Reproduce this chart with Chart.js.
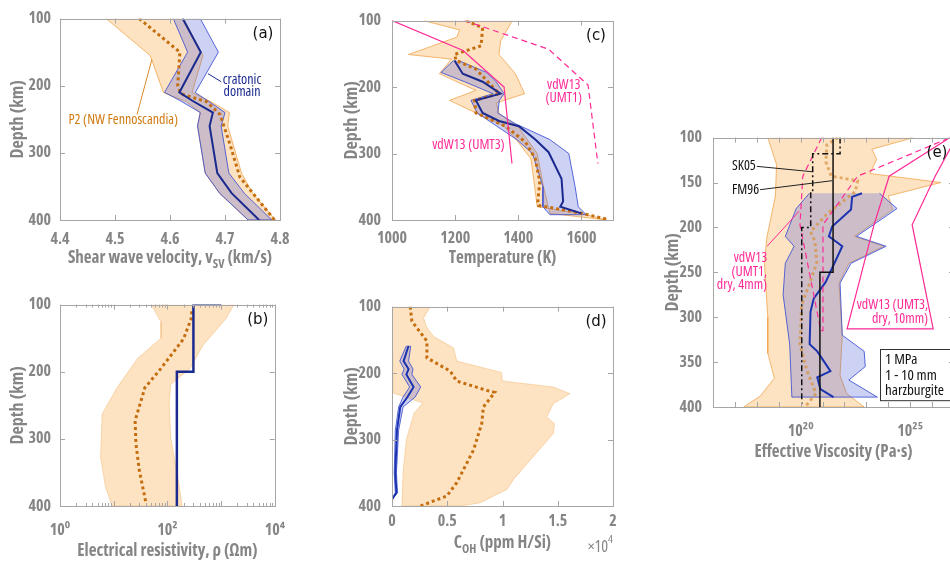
<!DOCTYPE html>
<html>
<head>
<meta charset="utf-8">
<script src="https://cdn.jsdelivr.net/npm/chart.js@4.4.1/dist/chart.umd.min.js"></script>
<style>
html, body { margin: 0; padding: 0; width: 950px; height: 566px; overflow: hidden; background: #fff; }
canvas { position: absolute; }
</style>
</head>
<body>
<canvas id="pa"></canvas>
<canvas id="pb"></canvas>
<canvas id="pc"></canvas>
<canvas id="pd"></canvas>
<canvas id="pe"></canvas>
<script>
// ---- (a) shear wave velocity (km/s) vs depth (km)
const aBlueDepth = [100, 150, 210, 222, 240, 260, 330, 360, 400];
const aBlueVs    = [4.623, 4.656, 4.617, 4.640, 4.678, 4.672, 4.686, 4.712, 4.762];
const aBlueLo    = [4.606, 4.632, 4.590, 4.618, 4.655, 4.650, 4.664, 4.690, 4.742];
const aBlueHi    = [4.655, 4.688, 4.646, 4.668, 4.700, 4.693, 4.707, 4.735, 4.785];
const aP2Depth   = [100, 150, 200, 212, 224, 243, 287, 336, 400];
const aP2Vs      = [4.544, 4.618, 4.614, 4.620, 4.667, 4.691, 4.709, 4.727, 4.790];
const aP2BandDepth = [100, 155, 210, 224, 240, 260, 330, 360, 400];
const aP2Lo      = [4.484, 4.564, 4.588, 4.630, 4.655, 4.650, 4.664, 4.690, 4.742];
const aP2Hi      = [4.625, 4.660, 4.640, 4.675, 4.708, 4.705, 4.730, 4.750, 4.792];

// ---- (b) electrical resistivity (ohm m)
const bBlueRho   = [1000, 305, 305, 150, 150];
const bBlueDepth = [100, 100, 200, 200, 400];
const bP2Depth   = [110, 121, 151, 195, 224, 273, 308, 347, 396];
const bP2Rho     = [285, 277, 200, 76, 38, 25, 26, 30, 40];
const bLoDepth   = [100, 126, 150, 180, 224, 263, 327, 371, 400];
const bLoRho     = [50, 76, 76, 28, 11.5, 6.1, 5.7, 7, 9.3];
const bHiDepth   = [100, 121, 160, 195, 219, 249, 298, 366, 400];
const bHiRho     = [1740, 1230, 464, 265, 115, 108, 115, 163, 187];

// ---- (c) temperature (K)
const cUmt3T     = [1000, 1225, 1355, 1380];
const cUmt3Depth = [100, 145, 200, 315];
const cUmt1T     = [1230, 1496, 1621, 1652];
const cUmt1Depth = [100, 143, 197, 315];
const cP2Depth   = [100, 111, 138, 151, 160, 173, 210, 220, 239, 259, 283, 308, 342, 372, 378, 390, 398, 400];
const cP2T       = [1235, 1287, 1282, 1198, 1203, 1266, 1339, 1261, 1266, 1360, 1423, 1454, 1468, 1462, 1464, 1601, 1674, 1680];
const cBlueDepth = [160, 180, 192, 210, 220, 239, 251, 259, 279, 298, 338, 372, 380, 390];
const cBlueT     = [1198, 1224, 1287, 1344, 1266, 1287, 1339, 1402, 1454, 1496, 1537, 1542, 1533, 1600];
const cBlueBandDepth = [160, 178, 192, 210, 220, 239, 255, 279, 300, 350, 380, 392];
const cBlueLo    = [1195, 1155, 1230, 1320, 1250, 1270, 1320, 1395, 1445, 1478, 1478, 1500];
const cBlueHi    = [1210, 1300, 1330, 1355, 1340, 1335, 1390, 1500, 1560, 1580, 1590, 1615];
const cLoDepth   = [100, 114, 125, 151, 158, 180, 205, 220, 239, 259, 283, 308, 372, 380, 390, 400];
const cLoT       = [1100, 1214, 1205, 1052, 1188, 1150, 1266, 1182, 1266, 1355, 1400, 1440, 1458, 1460, 1600, 1680];
const cHiDepth   = [100, 131, 151, 180, 210, 224, 240, 260, 300, 350, 390, 400];
const cHiT       = [1381, 1344, 1339, 1391, 1420, 1330, 1340, 1400, 1460, 1480, 1500, 1680];

// ---- (d) water content (x 10^4 ppm H/Si)
const dP2Depth   = [100, 122, 152, 177, 197, 212, 226, 229, 251, 276, 316, 365, 385, 400];
const dP2Coh     = [0.165, 0.18, 0.316, 0.316, 0.526, 0.586, 0.857, 0.93, 0.827, 0.812, 0.737, 0.586, 0.496, 0.256];
const dLoDepth   = [100, 230, 245, 260, 300, 350, 400];
const dLoCoh     = [0, 0.01, 0.28, 0.2, 0.13, 0.1, 0.09];
const dHiDepth   = [100, 117, 132, 145, 162, 182, 199, 212, 221, 231, 246, 266, 276, 291, 331, 360, 375, 395, 400];
const dHiCoh     = [0.346, 0.286, 0.316, 0.376, 0.556, 0.586, 0.99, 1.0, 1.46, 1.61, 1.46, 1.4, 1.47, 1.46, 1.25, 1.1, 1.04, 0.8, 0.62];
const dBlueDepth = [159, 182, 194, 202, 221, 236, 251, 286, 350, 380, 390];
const dBlueCoh   = [0.15, 0.105, 0.15, 0.13, 0.195, 0.14, 0.075, 0.045, 0.03, 0.04, 0];
const dBlueLo    = [0.13, 0.07, 0.11, 0.09, 0.16, 0.10, 0.06, 0.03, 0.02, 0.03, 0];
const dBlueHi    = [0.17, 0.15, 0.19, 0.18, 0.26, 0.21, 0.10, 0.06, 0.04, 0.05, 0];

// ---- (e) effective viscosity, log10(Pa s)
const eFm96Log   = [21.48, 21.48, 20.88, 20.88];
const eFm96Depth = [100, 250, 250, 400];
const eSk05Log   = [21.8, 21.8, 20.55, 20.55, 20.46, 20.46, 20.05, 20.05];
const eSk05Depth = [100, 118, 118, 160, 160, 200, 200, 400];
const eUmt1Log   = [20.96, 20.1, 19.97, 20.92, 21.02, 21.02, 22.6, 26.82];
const eUmt1Depth = [100, 143, 197, 315, 315, 197, 143, 100];
const eUmt3Log   = [26.82, 24.04, 23.35, 22.12, 26.05, 25.09, 26.14, 27.1];
const eUmt3Depth = [100, 143, 197, 313, 313, 197, 143, 100];
const eP2Depth   = [100, 108, 127, 143, 148, 160, 185, 205, 215, 239, 261, 286, 330, 359, 385, 400];
const eP2Log     = [21.7, 21.2, 21.15, 21.4, 22.6, 22.5, 21.2, 20.45, 20.65, 20.74, 20.43, 20.05, 19.97, 20.28, 20.7, 20.2];
const eBlueDepth = [162, 166, 180, 199, 210, 221, 261, 279, 294, 330, 338, 352, 360, 367, 380, 389];
const eBlueLog   = [22.8, 22.35, 22.3, 21.44, 21.29, 21.9, 21.14, 20.6, 20.45, 20.41, 20.76, 21.14, 21.36, 20.76, 20.9, 21.5];
const eBlueLoDepth = [162, 179, 210, 221, 240, 275, 330, 389];
const eBlueLoLog   = [20.4, 19.8, 19.3, 19.7, 19.3, 19.2, 19.5, 19.6];
const eBlueHiDepth = [162, 179, 210, 221, 240, 262, 320, 338, 355, 370, 389];
const eBlueHiLog   = [23.6, 24.4, 22.55, 23.9, 22.3, 21.8, 21.9, 22.9, 22.95, 22.2, 23.5];
const eLoDepth   = [100, 130, 165, 212, 240, 262, 300, 340, 368, 388, 400];
const eLoLog     = [18.5, 18.9, 18.85, 18.45, 18.35, 18.4, 18.5, 18.5, 18.8, 18.15, 17.4];
const eHiDepth   = [100, 113, 124, 140, 150, 165, 180, 210, 221, 240, 262, 320, 365, 385, 400];
const eHiLog     = [25.15, 23.25, 23.47, 23.17, 26.4, 24.0, 24.2, 22.45, 23.8, 22.2, 21.75, 21.9, 21.8, 22.1, 22.9];

// ---- ticks
const depthTicks  = [100, 200, 300, 400];
const eDepthTicks = [100, 150, 200, 250, 300, 350, 400];
const aXTicks = [4.4, 4.5, 4.6, 4.7, 4.8];
const bXLabelVals = [1, 100, 10000];
const bXLabels = ['10⁰', '10²', '10⁴'];
const cXTicks = [1000, 1200, 1400, 1600];
const dXTicks = [0, 0.5, 1, 1.5, 2];
const dXLabels = ['0', '0.5', '1', '1.5', '2'];
const eXLabelVals = [1e20, 1e25];
const eXLabels = ['10²⁰', '10²⁵'];

const FONT = "'Open Sans', 'Liberation Sans Narrow', 'DejaVu Sans Condensed', sans-serif";
const STRETCH = 'condensed';
const LETTER_FONT = "'DejaVu Sans', sans-serif";
const GRAY = '#858585';
const AXIS = '#a6a6a6';
const ORANGE_FILL = 'rgba(250,175,80,0.35)';
const ORANGE_EDGE = 'rgba(240,160,70,0.75)';
const BLUE_FILL = 'rgba(55,75,215,0.25)';
const BLUE_EDGE = 'rgba(60,80,210,0.85)';
const NAVY = '#1b2a8f';
const DOT = '#c46e10';
const PINK = '#ff2a96';

const fontStr = (weight, size) => (weight || '') + ' ' + STRETCH + ' ' + size + 'px ' + FONT;
const pts = (xs, ys) => xs.map((x, i) => ({x: x, y: ys[i]}));
const pow10 = arr => arr.map(v => Math.pow(10, v));
const band = (lx, ly, hx, hy) => pts(lx, ly).concat(pts(hx, hy).reverse());

function lineDs(data, color, width, dash, order) {
  return {data, borderColor: color, borderWidth: width, borderDash: dash || [], fill: false, order, pointRadius: 0};
}
function bandDs(data, fill, edge, order) {
  return {data, backgroundColor: fill, borderColor: edge, borderWidth: 1, fill: 'shape', order, pointRadius: 0};
}

function rich(ctx, parts, x, y, align, size, color, weight) {
  const ws = parts.map(p => { ctx.font = fontStr(weight, p[1] ? size * 0.72 : size); return ctx.measureText(p[0]).width; });
  const total = ws.reduce((s, w) => s + w, 0);
  let cx = align === 'center' ? x - total / 2 : align === 'right' ? x - total : x;
  ctx.fillStyle = color;
  ctx.textAlign = 'left';
  ctx.textBaseline = 'middle';
  parts.forEach((p, i) => {
    ctx.font = fontStr(weight, p[1] ? size * 0.72 : size);
    const dy = p[1] === 'sub' ? size * 0.4 : p[1] === 'sup' ? -size * 0.45 : 0;
    ctx.fillText(p[0], cx, y + dy);
    cx += ws[i];
  });
}

function text(ctx, s, x, y, color, align, size) {
  ctx.font = fontStr('', size || 14);
  ctx.fillStyle = color;
  ctx.textAlign = align || 'center';
  ctx.textBaseline = 'middle';
  ctx.fillText(s, x, y);
}
function seg(ctx, p, q, color) {
  ctx.strokeStyle = color; ctx.lineWidth = 1; ctx.setLineDash([]);
  ctx.beginPath(); ctx.moveTo(p[0], p[1]); ctx.lineTo(q[0], q[1]); ctx.stroke();
}

function framePlugin(cfg) {
  return {
    id: 'frame',
    afterDraw(chart) {
      const ctx = chart.ctx, a = chart.chartArea;
      const sx = chart.scales.x, sy = chart.scales.y;
      const P = (x, y) => [sx.getPixelForValue(x), sy.getPixelForValue(y)];
      ctx.save();
      if (cfg.notes) cfg.notes(ctx, P, a);
      ctx.strokeStyle = AXIS; ctx.lineWidth = 1; ctx.setLineDash([]);
      ctx.beginPath();
      sx.ticks.forEach(t => {
        const p = Math.round(sx.getPixelForValue(t.value)) + 0.5;
        const L = cfg.minorX && cfg.minorX(t.value) ? 3 : 5;
        ctx.moveTo(p, a.bottom); ctx.lineTo(p, a.bottom - L);
        ctx.moveTo(p, a.top); ctx.lineTo(p, a.top + L);
      });
      sy.ticks.forEach(t => {
        const p = Math.round(sy.getPixelForValue(t.value)) + 0.5;
        ctx.moveTo(a.left, p); ctx.lineTo(a.left + 5, p);
        ctx.moveTo(a.right, p); ctx.lineTo(a.right - 5, p);
      });
      ctx.stroke();
      ctx.strokeRect(Math.round(a.left) + 0.5, Math.round(a.top) + 0.5,
        Math.round(a.right - a.left), Math.round(a.bottom - a.top));
      ctx.font = '15px ' + LETTER_FONT;
      ctx.fillStyle = '#111'; ctx.textAlign = 'center'; ctx.textBaseline = 'middle';
      ctx.fillText(cfg.letter, a.right - 17, a.top + 16);
      rich(ctx, cfg.title, (a.left + a.right) / 2, a.bottom + cfg.titleDy, 'center', 17, GRAY, 'bold');
      if (cfg.extra) cfg.extra(ctx, a);
      ctx.restore();
    }
  };
}

function makePanel(id, g, cfg) {
  const el = document.getElementById(id);
  el.width = g.w; el.height = g.h;
  el.style.left = g.left + 'px'; el.style.top = g.top + 'px';
  const tickFont = {family: FONT, size: 16, weight: 'bold ' + STRETCH};
  return new Chart(el, {
    type: 'line',
    data: {datasets: cfg.datasets},
    options: {
      responsive: false,
      animation: false,
      events: [],
      layout: {padding: {left: 0, top: 16, right: g.w - 60 - g.pw, bottom: 0}},
      plugins: {legend: {display: false}, tooltip: {enabled: false}},
      elements: {point: {radius: 0}, line: {tension: 0}},
      scales: {
        x: {
          type: cfg.xType, min: cfg.xMin, max: cfg.xMax, position: 'bottom',
          grid: {display: false, drawTicks: false}, border: {display: false},
          afterFit: s => { s.height = g.h - 16 - g.ph; },
          afterBuildTicks: s => { s.ticks = cfg.xTicks.map(v => ({value: v})); },
          ticks: {autoSkip: false, maxRotation: 0, padding: cfg.xPad, color: GRAY, font: tickFont, callback: cfg.xLabel}
        },
        y: {
          type: 'linear', min: 100, max: 400, reverse: true, position: 'left',
          grid: {display: false, drawTicks: false}, border: {display: false},
          afterFit: s => { s.width = 60; },
          afterBuildTicks: s => { s.ticks = cfg.yTicks.map(v => ({value: v})); },
          ticks: {autoSkip: false, padding: cfg.yPad, color: GRAY, font: tickFont, callback: v => String(v)},
          title: {display: true, text: 'Depth (km)', color: GRAY, font: {family: FONT, size: 18, weight: 'bold ' + STRETCH}, padding: {top: cfg.yTitlePad, bottom: 0}}
        }
      }
    },
    plugins: [framePlugin(cfg)]
  });
}

// ---- panel (a)
makePanel('pa', {left: 0, top: 0, w: 300, h: 276, pw: 220, ph: 204}, {
  xType: 'linear', xMin: 4.4, xMax: 4.8, xTicks: aXTicks, xPad: 10, xLabel: v => v.toFixed(1),
  yTicks: depthTicks, yPad: 9, yTitlePad: 7,
  letter: '(a)', titleDy: 38,
  title: [['Shear wave velocity, v', 0], ['SV', 'sub'], [' (km/s)', 0]],
  datasets: [
    lineDs(pts(aBlueVs, aBlueDepth), NAVY, 2, null, 1),
    lineDs(pts(aP2Vs, aP2Depth), DOT, 3, [3, 3], 2),
    bandDs(band(aBlueLo, aBlueDepth, aBlueHi, aBlueDepth), BLUE_FILL, BLUE_EDGE, 3),
    bandDs(band(aP2Lo, aP2BandDepth, aP2Hi, aP2BandDepth), ORANGE_FILL, ORANGE_EDGE, 4)
  ],
  notes: (ctx, P) => {
    seg(ctx, P(4.669, 182), P(4.693, 194), NAVY);
    let p = P(4.731, 191); text(ctx, 'cratonic', p[0], p[1], NAVY);
    p = P(4.731, 209); text(ctx, 'domain', p[0], p[1], NAVY);
    seg(ctx, P(4.567, 161), P(4.540, 243), '#d98a2b');
    p = P(4.515, 251); text(ctx, 'P2 (NW Fennoscandia)', p[0], p[1], '#d07a10');
  }
});

// ---- panel (b)
const bTicks = [];
[1, 10, 100, 1000].forEach(d => { for (let k = 1; k < 10; k++) bTicks.push(d * k); });
bTicks.push(10000);
makePanel('pb', {left: 0, top: 286, w: 300, h: 280, pw: 220, ph: 204}, {
  xType: 'logarithmic', xMin: 1, xMax: 10000, xTicks: bTicks, xPad: 15,
  xLabel: v => { const i = bXLabelVals.indexOf(v); return i >= 0 ? bXLabels[i] : ''; },
  minorX: v => bXLabelVals.indexOf(v) < 0 && [10, 1000].indexOf(v) < 0,
  yTicks: depthTicks, yPad: 9, yTitlePad: 7,
  letter: '(b)', titleDy: 45,
  title: [['Electrical resistivity, ρ (Ωm)', 0]],
  datasets: [
    lineDs(pts(bBlueRho, bBlueDepth), NAVY, 2.5, null, 1),
    lineDs(pts(bP2Rho, bP2Depth), DOT, 3, [3, 3], 2),
    bandDs(band(bLoRho, bLoDepth, bHiRho, bHiDepth), ORANGE_FILL, 'rgba(240,170,90,0.4)', 4)
  ]
});

// ---- panel (c)
makePanel('pc', {left: 332, top: 0, w: 300, h: 276, pw: 221, ph: 204}, {
  xType: 'linear', xMin: 1000, xMax: 1700, xTicks: cXTicks, xPad: 9, xLabel: v => String(v),
  yTicks: depthTicks, yPad: 11, yTitlePad: 9,
  letter: '(c)', titleDy: 38,
  title: [['Temperature (K)', 0]],
  datasets: [
    lineDs(pts(cUmt3T, cUmt3Depth), PINK, 1.2, null, 0),
    lineDs(pts(cUmt1T, cUmt1Depth), PINK, 1.2, [6, 4], 0),
    lineDs(pts(cBlueT, cBlueDepth), NAVY, 2, null, 1),
    lineDs(pts(cP2T, cP2Depth), DOT, 3, [3, 3], 2),
    bandDs(band(cBlueLo, cBlueBandDepth, cBlueHi, cBlueBandDepth), BLUE_FILL, BLUE_EDGE, 3),
    bandDs(band(cLoT, cLoDepth, cHiT, cHiDepth), ORANGE_FILL, ORANGE_EDGE, 4)
  ],
  notes: (ctx, P) => {
    let p = P(1544, 197); text(ctx, 'vdW13', p[0], p[1], PINK);
    p = P(1544, 216); text(ctx, '(UMT1)', p[0], p[1], PINK);
    p = P(1242, 287); text(ctx, 'vdW13 (UMT3)', p[0], p[1], PINK);
  }
});

// ---- panel (d)
makePanel('pd', {left: 332, top: 286, w: 300, h: 280, pw: 221, ph: 204}, {
  xType: 'linear', xMin: 0, xMax: 2, xTicks: dXTicks, xPad: 6,
  xLabel: v => { const i = dXTicks.indexOf(v); return i >= 0 ? dXLabels[i] : ''; },
  yTicks: depthTicks, yPad: 11, yTitlePad: 9,
  letter: '(d)', titleDy: 37,
  title: [['C', 0], ['OH', 'sub'], [' (ppm H/Si)', 0]],
  datasets: [
    lineDs(pts(dBlueCoh, dBlueDepth), '#1c33b0', 2, null, 1),
    lineDs(pts(dP2Coh, dP2Depth), DOT, 3, [3, 3], 2),
    bandDs(band(dBlueLo, dBlueDepth, dBlueHi, dBlueDepth), BLUE_FILL, BLUE_EDGE, 3),
    bandDs(band(dLoCoh, dLoDepth, dHiCoh, dHiDepth), ORANGE_FILL, 'rgba(240,170,90,0.4)', 4)
  ],
  extra: (ctx, a) => {
    rich(ctx, [['×10', 0], ['4', 'sup']], a.right, a.bottom + 41, 'right', 16, GRAY, '');
  }
});

// ---- panel (e)
const eTicks = [];
for (let k = 16; k <= 27; k++) eTicks.push(Math.pow(10, k));
makePanel('pe', {left: 653, top: 117, w: 320, h: 360, pw: 241, ph: 274}, {
  xType: 'logarithmic', xMin: 1e16, xMax: 1e27, xTicks: eTicks, xPad: 15,
  xLabel: v => { const i = eXLabelVals.indexOf(v); return i >= 0 ? eXLabels[i] : ''; },
  yTicks: eDepthTicks, yPad: 11, yTitlePad: 9,
  letter: '(e)', titleDy: 45,
  title: [['Effective Viscosity (Pa·s)', 0]],
  datasets: [
    lineDs(pts(pow10(eFm96Log), eFm96Depth), '#111', 1.5, null, 0),
    lineDs(pts(pow10(eSk05Log), eSk05Depth), '#111', 1.5, [6, 3, 2, 3], 0),
    lineDs(pts(pow10(eUmt1Log), eUmt1Depth), PINK, 1.2, [6, 4], 0),
    lineDs(pts(pow10(eUmt3Log), eUmt3Depth), PINK, 1.2, null, 0),
    lineDs(pts(pow10(eBlueLog), eBlueDepth), '#1c33b0', 2, null, 1),
    lineDs(pts(pow10(eP2Log), eP2Depth), 'rgba(215,150,70,0.75)', 3, [3, 3], 2),
    bandDs(band(pow10(eBlueLoLog), eBlueLoDepth, pow10(eBlueHiLog), eBlueHiDepth), BLUE_FILL, BLUE_EDGE, 3),
    bandDs(band(pow10(eLoLog), eLoDepth, pow10(eHiLog), eHiDepth), ORANGE_FILL, ORANGE_EDGE, 4)
  ],
  notes: (ctx, P0) => {
    const P = (lx, d) => P0(Math.pow(10, lx), d);
    seg(ctx, P(18.0, 132), P(20.52, 138), '#222');
    seg(ctx, P(18.15, 158), P(21.43, 148), '#222');
    let p = P(18.0, 132); text(ctx, 'SK05', p[0] - 1, p[1], '#111', 'right');
    p = P(18.15, 158); text(ctx, 'FM96', p[0] - 1, p[1], '#111', 'right');
    seg(ctx, P(18.47, 221), P(19.93, 182), PINK);
    p = P(18.47, 234); text(ctx, 'vdW13', p[0], p[1], PINK, 'right');
    p = P(18.47, 250); text(ctx, '(UMT1,', p[0], p[1], PINK, 'right');
    p = P(18.47, 264); text(ctx, 'dry, 4mm)', p[0], p[1], PINK, 'right');
    p = P(25.82, 286); text(ctx, 'vdW13 (UMT3,', p[0], p[1], PINK, 'right');
    p = P(25.82, 302); text(ctx, 'dry, 10mm)', p[0], p[1], PINK, 'right');
    const b0 = P(23.63, 335), b1 = P(27.3, 392);
    ctx.fillStyle = '#fff';
    ctx.fillRect(b0[0], b0[1], b1[0] - b0[0], b1[1] - b0[1]);
    ctx.strokeStyle = '#333'; ctx.lineWidth = 1;
    ctx.strokeRect(Math.round(b0[0]) + 0.5, Math.round(b0[1]) + 0.5, b1[0] - b0[0], b1[1] - b0[1]);
    p = P(23.85, 347.5); text(ctx, '1 MPa', p[0], p[1], '#111', 'left', 15);
    p = P(23.85, 365); text(ctx, '1 - 10 mm', p[0], p[1], '#111', 'left', 15);
    p = P(23.85, 381.5); text(ctx, 'harzburgite', p[0], p[1], '#111', 'left', 15);
  }
});
</script>
</body>
</html>
